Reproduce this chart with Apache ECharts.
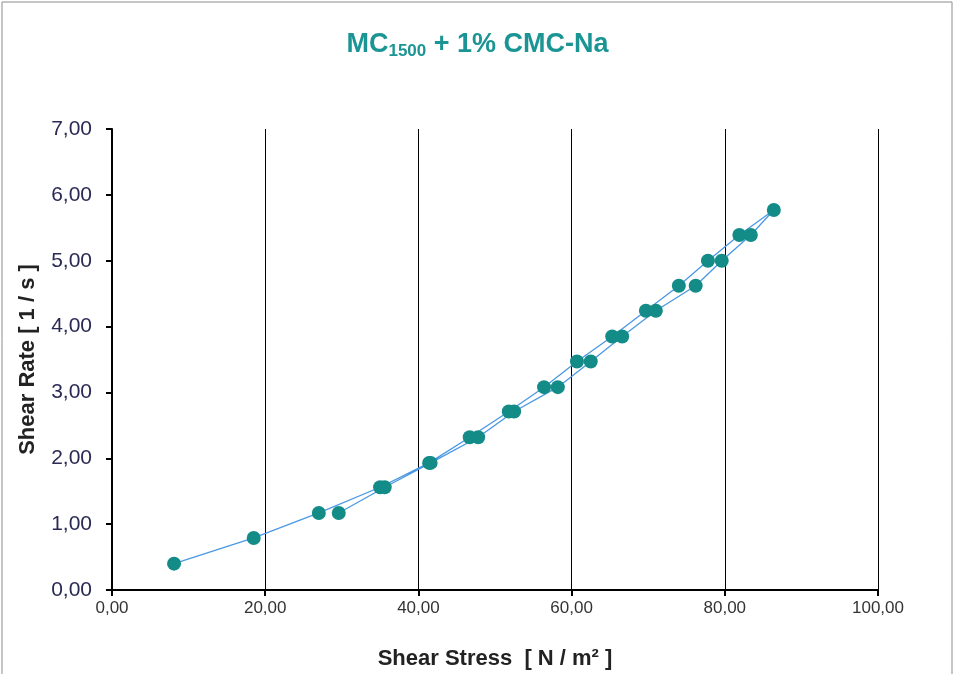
<!DOCTYPE html>
<html><head><meta charset="utf-8">
<script src="https://cdn.jsdelivr.net/npm/echarts@6/dist/echarts.min.js"></script>
<style>html,body{margin:0;padding:0;background:#fff}#c{width:955px;height:674px}</style>
</head><body><div id="c"></div>
<script>
var shearStress = [8.1, 18.5, 27.0, 35.0, 41.4, 46.7, 51.8, 56.4, 60.7, 65.3, 69.7, 74.0, 77.8, 81.9, 86.4, 83.4, 79.6, 76.2, 71.0, 66.6, 62.5, 58.2, 52.5, 47.8, 41.6, 35.6, 29.6];
var shearRate   = [0.40, 0.79, 1.17, 1.56, 1.93, 2.32, 2.71, 3.08, 3.47, 3.85, 4.24, 4.62, 5.00, 5.39, 5.77, 5.39, 5.00, 4.62, 4.24, 3.85, 3.47, 3.08, 2.71, 2.32, 1.93, 1.56, 1.17];
var xTicks = [0, 20, 40, 60, 80, 100];
var yTicks = [0, 1, 2, 3, 4, 5, 6, 7];

var pts = shearStress.map(function (x, i) { return [x, shearRate[i]]; });
var fmt = function (v) { return v.toFixed(2).replace('.', ','); };
var chart = echarts.init(document.getElementById('c'));
chart.setOption({
  animation: false,
  backgroundColor: '#fff',
  title: {
    text: '{a|MC}{s|1500}{a| + 1% CMC-Na}',
    left: 'center', top: 24,
    textStyle: { rich: {
      a: { fontFamily: 'Liberation Sans', fontWeight: 'bold', fontSize: 27, color: '#1b9494' },
      s: { fontFamily: 'Liberation Sans', fontWeight: 'bold', fontSize: 17, color: '#1b9494', verticalAlign: 'bottom', padding: [14, 0, 0, 0] }
    } }
  },
  graphic: [{ type: 'rect', shape: { x: 2, y: 2, width: 950, height: 680 }, style: { fill: 'none', stroke: '#8c8c8c', lineWidth: 1 }, silent: true }],
  grid: { left: 112, right: 77, top: 129, bottom: 84, containLabel: false, outerBoundsMode: 'none' },
  xAxis: {
    type: 'value', min: xTicks[0], max: xTicks[xTicks.length - 1], interval: 20,
    name: 'Shear Stress  [ N / m² ]', nameLocation: 'middle', nameGap: 58,
    nameTextStyle: { fontFamily: 'Liberation Sans', fontWeight: 'bold', fontSize: 22, color: '#222' },
    axisLine: { onZero: false, lineStyle: { color: '#000', width: 2 } },
    axisTick: { show: true, length: 6, lineStyle: { color: '#000', width: 2 } },
    axisLabel: { formatter: fmt, margin: 10, fontFamily: 'Liberation Sans', fontSize: 17, color: '#333' },
    splitLine: { show: true, lineStyle: { color: '#000', width: 1 } }
  },
  yAxis: {
    type: 'value', min: yTicks[0], max: yTicks[yTicks.length - 1], interval: 1,
    name: 'Shear Rate [ 1 / s ]', nameLocation: 'middle', nameGap: 73,
    nameTextStyle: { fontFamily: 'Liberation Sans', fontWeight: 'bold', fontSize: 22, color: '#222' },
    axisLine: { show: true, onZero: false, lineStyle: { color: '#000', width: 2 } },
    axisTick: { show: true, length: 6, lineStyle: { color: '#000', width: 2 } },
    axisLabel: { formatter: fmt, margin: 20, fontFamily: 'Liberation Sans', fontSize: 21, color: '#2a2a55' },
    splitLine: { show: false }
  },
  series: [{
    type: 'line', data: pts, symbol: 'circle', symbolSize: 14,
    lineStyle: { color: '#4a98e4', width: 1.3 },
    itemStyle: { color: '#138c87' }
  }]
});
</script></body></html>
